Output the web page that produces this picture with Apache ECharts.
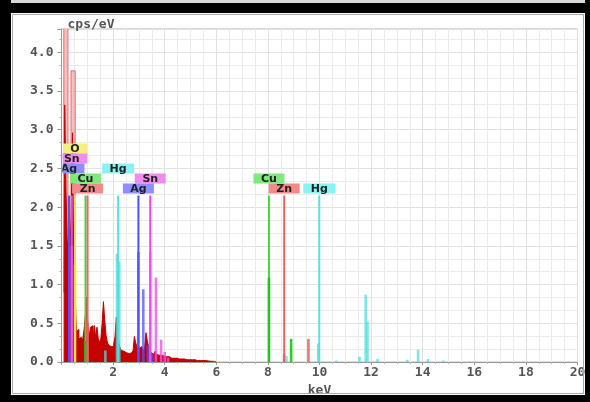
<!DOCTYPE html>
<html><head><meta charset="utf-8">
<script src="https://cdn.jsdelivr.net/npm/echarts@6/dist/echarts.min.js"></script>
<style>html,body{margin:0;padding:0;background:#fff}#c{width:590px;height:402px}</style>
</head><body><div id="c"></div>
<script>
// ---- data ----
const spectrumStart = 0.10;
const spectrumStep = 0.05;
const spectrumValues = [
  0.9, 3.32, 2.2, 1.5, 1.6, 1.4, 1.9, 2.96, 1.25, 0.95,   // 0.10-0.55
  0.4, 0.42, 0.3, 0.32, 0.26, 0.3, 0.42, 0.6, 0.84, 0.45, // 0.60-1.05
  0.33, 0.45, 0.47, 0.3, 0.47, 0.32, 0.45, 0.3, 0.26, 0.3, // 1.10-1.55
  0.5, 0.78, 0.55, 0.35, 0.26, 0.22, 0.2, 0.18, 0.2, 0.24, // 1.60-2.05
  0.33, 0.58, 0.42, 0.24, 0.18, 0.15, 0.14, 0.13, 0.12, 0.12, // 2.10-2.55
  0.11, 0.13, 0.12, 0.12, 0.15, 0.33, 0.25, 0.2, 0.18, 0.16, // 2.60-3.05
  0.2, 0.17, 0.14, 0.2, 0.38, 0.28, 0.2, 0.16, 0.12, 0.1,   // 3.10-3.55
  0.12, 0.14, 0.1, 0.09, 0.08, 0.09, 0.1, 0.08, 0.07, 0.07, // 3.60-4.05
  0.06, 0.07, 0.06, 0.05, 0.06, 0.05, 0.05, 0.05, 0.045, 0.04, // 4.10-4.55
  0.04, 0.04, 0.035, 0.04, 0.035, 0.03, 0.03, 0.035, 0.03, 0.03, // 4.60-5.05
  0.025, 0.03, 0.025, 0.025, 0.02, 0.025, 0.02, 0.02, 0.02, 0.02, // 5.10-5.55
  0.015, 0.015, 0.015, 0.015, 0.01, 0.01, 0.01, 0.008, 0     // 5.60-6.00
];
const lightSpikes = [[0.17, 4.6], [0.45, 3.76]];

const agPeaks = [[0.30, 1.72], [2.98, 1.42], [3.17, 0.94], [3.35, 0.22], [3.52, 0.1]];
const snPeaks = [[0.40, 1.5], [3.44, 1.42], [3.66, 1.09], [3.86, 0.29], [4.00, 0.13], [4.13, 0.06]];
const oPeaks  = [[0.525, 1.25]];
const cuPeaks = [[0.93, 0.28], [8.04, 1.09], [8.90, 0.30]];
const znPeaks = [[1.01, 0.5], [8.63, 0.1], [9.57, 0.30]];
const hgPeaks = [[1.70, 0.15], [2.15, 1.4], [2.24, 1.3], [8.72, 0.08], [9.95, 0.24], [10.65, 0.02],
                 [11.55, 0.07], [11.79, 0.87], [11.86, 0.52], [12.25, 0.04], [13.40, 0.03],
                 [13.82, 0.16], [14.20, 0.04], [14.80, 0.02]];

const markerEnergies = [0.525, 0.40, 0.29, 2.195, 0.93, 3.44, 1.01, 2.98, 8.04, 8.63, 9.99];
const markerNames    = ['O', 'Sn', 'Ag', 'Hg', 'Cu', 'Sn', 'Zn', 'Ag', 'Cu', 'Zn', 'Hg'];
const markerRows     = [0, 1, 2, 2, 3, 3, 4, 4, 3, 4, 4];
const markerTop = 2.15;

const xLabelStep = 2;
const yLabelStep = 0.5;

// ---- styles ----
const elemStyle = {
  O:  {line: '#e8e040', box: '#f4f07e', fill: 'rgba(245,230,40,0.8)'},
  Sn: {line: '#e448e4', box: '#f08cf0', fill: 'rgba(240,80,240,0.8)'},
  Ag: {line: '#5454ff', box: '#8e8eff', fill: 'rgba(80,80,255,0.75)'},
  Hg: {line: '#58e2e2', box: '#8af2f2', fill: 'rgba(80,220,220,0.75)'},
  Cu: {line: '#3cdc3c', box: '#7eea7e', fill: 'rgba(20,200,20,0.9)'},
  Zn: {line: '#f06464', box: '#f28a8a', fill: 'rgba(240,90,90,0.85)'}
};
const labelFont = 'bold 11px "DejaVu Sans"';
const axisFont = {fontFamily: 'DejaVu Sans Mono', fontSize: 13, fontWeight: 'bold', color: '#555'};
const measureCtx = document.createElement('canvas').getContext('2d');
function textW(t) { measureCtx.font = labelFont; return measureCtx.measureText(t).width; }

const spectrumData = spectrumValues.map((v, i) => [+(spectrumStart + i * spectrumStep).toFixed(3), v]);

function peakRenderer(color, halfWidth) {
  return function (params, api) {
    const e = api.value(0), v = api.value(1);
    const p0 = api.coord([e - halfWidth, v]);
    const p1 = api.coord([e + halfWidth, 0]);
    return {type: 'rect', shape: {x: p0[0], y: p0[1], width: p1[0] - p0[0], height: p1[1] - p0[1]},
            style: {fill: color}};
  };
}
function peakSeries(name, data, z) {
  return {type: 'custom', name: name, data: data, clip: true, z: z,
          encode: {x: 0, y: 1}, renderItem: peakRenderer(elemStyle[name].fill, 0.05)};
}
const markerData = markerEnergies.map((e, i) => [e, markerTop, markerRows[i]]);

const chart = echarts.init(document.getElementById('c'), null, {renderer: 'canvas'});
chart.setOption({
  animation: false,
  backgroundColor: '#fff',
  grid: {left: 61.5, right: 12.5, top: 29, bottom: 33, show: true, borderColor: '#b0b0b0', borderWidth: 1},
  xAxis: {
    type: 'value', min: 0, max: 20, interval: xLabelStep,
    name: 'keV', nameLocation: 'middle', nameGap: 11,
    nameTextStyle: Object.assign({}, axisFont),
    axisLine: {show: true, lineStyle: {color: '#999'}},
    axisTick: {show: true, length: 3, lineStyle: {color: '#999'}},
    minorTick: {show: true, splitNumber: 4, length: 2, lineStyle: {color: '#bbb'}},
    axisLabel: Object.assign({showMinLabel: false, margin: 4}, axisFont),
    splitLine: {show: true, lineStyle: {color: '#e2e2e2', width: 1}},
    minorSplitLine: {show: true, lineStyle: {color: '#ebebeb', width: 1}}
  },
  yAxis: {
    type: 'value', min: 0, max: 4.3, interval: yLabelStep,
    name: 'cps/eV', nameLocation: 'end', nameGap: -2,
    nameTextStyle: Object.assign({align: 'left', verticalAlign: 'bottom', padding: [0, 0, 0, 6]}, axisFont),
    axisLine: {show: true, lineStyle: {color: '#999'}},
    axisTick: {show: true, length: 4, lineStyle: {color: '#999'}},
    minorTick: {show: true, splitNumber: 3, length: 2, lineStyle: {color: '#aaa'}},
    axisLabel: Object.assign({margin: 8, showMaxLabel: false, formatter: v => v.toFixed(1)}, axisFont),
    splitLine: {show: true, lineStyle: {color: '#e2e2e2', width: 1}},
    minorSplitLine: {show: true, lineStyle: {color: '#ebebeb', width: 1}}
  },
  series: [
    {type: 'custom', name: 'spikes', data: lightSpikes, clip: true, z: 1, encode: {x: 0, y: 1},
     renderItem: function (params, api) {
       const e = api.value(0), v = api.value(1);
       const p0 = api.coord([e - 0.08, v]);
       const p1 = api.coord([e + 0.08, 0]);
       return {type: 'rect', shape: {x: p0[0], y: p0[1], width: p1[0] - p0[0], height: p1[1] - p0[1]},
               style: {fill: '#f6c0c0', stroke: '#e86a6a', lineWidth: 1}};
     }},
    {type: 'line', name: 'spectrum', data: spectrumData, step: 'middle', symbol: 'none', z: 2,
     lineStyle: {color: '#c40000', width: 1}, areaStyle: {color: '#c40000', opacity: 1}},
    {type: 'custom', name: 'markerLines', data: markerData, clip: true, z: 3, encode: {x: 0, y: 1},
     renderItem: function (params, api) {
       const s = elemStyle[markerNames[params.dataIndex]];
       const e = api.value(0);
       const t = api.coord([e, api.value(1)]);
       const b = api.coord([e, 0]);
       return {type: 'line', shape: {x1: t[0], y1: t[1], x2: b[0], y2: b[1]},
               style: {stroke: s.line, lineWidth: 2}};
     }},
    peakSeries('Ag', agPeaks, 4),
    peakSeries('Sn', snPeaks, 4),
    peakSeries('O', oPeaks, 4),
    peakSeries('Cu', cuPeaks, 4),
    peakSeries('Zn', znPeaks, 4),
    peakSeries('Hg', hgPeaks, 4),
    {type: 'custom', name: 'markerLabels', data: markerData, clip: true, z: 6, encode: {x: 0, y: 1},
     renderItem: function (params, api) {
       const name = markerNames[params.dataIndex];
       const s = elemStyle[name];
       const row = api.value(2);
       const t = api.coord([api.value(0), api.value(1)]);
       const w = Math.round(textW(name) + 15), h = 10;
       const cy = t[1] - 7 - (4 - row) * 10;
       const cs = params.coordSys;
       return {type: 'group',
         clipPath: {type: 'rect', shape: {x: cs.x + 1, y: cs.y, width: cs.width, height: cs.height}},
         children: [
         {type: 'rect', shape: {x: t[0] - w / 2, y: cy - h / 2, width: w, height: h}, style: {fill: s.box}},
         {type: 'text', style: {text: name, x: t[0], y: cy + 0.5, align: 'center', verticalAlign: 'middle',
                                font: labelFont, fill: '#222'}}
       ]};
     }}
  ],
  graphic: [
    {type: 'rect', z: 100, shape: {x: 0, y: 0, width: 590, height: 3}, style: {fill: '#d8d8d8'}},
    {type: 'rect', z: 100, shape: {x: 0, y: 3, width: 590, height: 10}, style: {fill: '#000'}},
    {type: 'rect', z: 100, shape: {x: 0, y: 0, width: 11, height: 402}, style: {fill: '#000'}},
    {type: 'rect', z: 100, shape: {x: 585, y: 0, width: 5, height: 402}, style: {fill: '#000'}},
    {type: 'rect', z: 100, shape: {x: 0, y: 395, width: 590, height: 7}, style: {fill: '#000'}},
    {type: 'rect', z: 100, shape: {x: 12.5, y: 14.5, width: 571, height: 379}, style: {fill: 'none', stroke: '#a8a8a8', lineWidth: 1}}
  ]
});
</script>
</body></html>
